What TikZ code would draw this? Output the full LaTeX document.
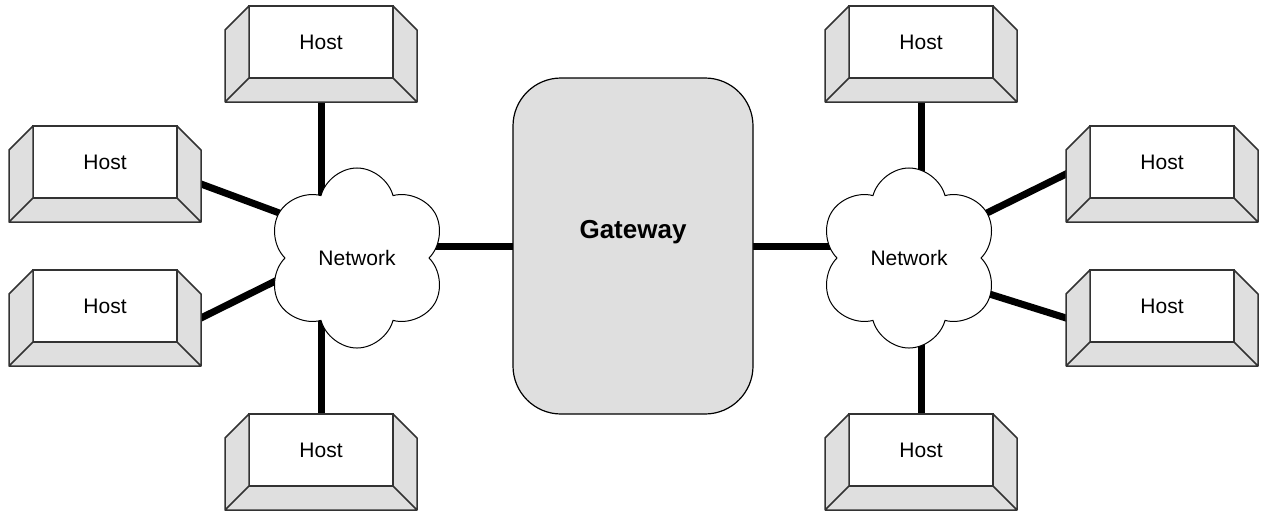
\documentclass[tikz,border=0pt]{standalone}
\usepackage{fontspec}
\setsansfont{Liberation Sans}
\usetikzlibrary{shapes.symbols,backgrounds}

\definecolor{panel}{gray}{0.875}
\definecolor{rim}{gray}{0.2}

\begin{document}
\begin{tikzpicture}[x=0.5pt,y=-0.5pt,
                    host/.style={rectangle,draw=rim,fill=white,line width=0.75pt,outer sep=0pt,
                      minimum width=72pt,minimum height=36pt,font=\sffamily\fontsize{10.5}{12}\selectfont},
                    net/.style={cloud,cloud puffs=6,cloud puff arc=150,aspect=1,shape border rotate=30,
                      draw,fill=white,line width=0.5pt,minimum width=90pt,minimum height=90pt,inner sep=0pt,
                      font=\sffamily\fontsize{10.5}{12}\selectfont},
                    gate/.style={rectangle,rounded corners=24pt,draw,fill=panel,line width=0.6pt,
                      minimum width=120pt,minimum height=168pt},
                    bevel/.style={draw=rim,fill=panel,line width=0.75pt,line join=round},
                    link/.style={line width=3.5pt,shorten <=-4pt,shorten >=-4pt}]
  \useasboundingbox (0,0) rectangle (1261,514);

  \node[gate,label={[yshift=7pt,font=\sffamily\bfseries\fontsize{13}{15}\selectfont]center:Gateway}] (gw) at (633,246) {};
  \node[net] (lnet) at (357,258) {Network};
  \node[net] (rnet) at (909,258) {Network};

  % hosts on the left network
  \node[host] (h1) at (321,42) {Host};
  \node[host] (h2) at (105,162) {Host};
  \node[host] (h3) at (105,306) {Host};
  \node[host] (h4) at (321,450) {Host};
  % hosts on the right network
  \node[host] (h5) at (921,42) {Host};
  \node[host] (h6) at (1162,162) {Host};
  \node[host] (h7) at (1162,306) {Host};
  \node[host] (h8) at (921,450) {Host};

  % sloped side and bottom panels round each host
  \foreach \h in {h1,h2,h3,h4,h5,h6,h7,h8}
    \draw[bevel] (\h.north west) -- ++(-12pt,-12pt) -- ([shift={(-12pt,-12pt)}]\h.south west)
      -- ([shift={(12pt,-12pt)}]\h.south east) -- ([shift={(12pt,-12pt)}]\h.north east)
      -- (\h.north east) -- (\h.south east) -- (\h.south west) -- cycle
      (\h.south west) -- ++(-12pt,-12pt) (\h.south east) -- ++(12pt,-12pt);

  \begin{pgfonlayer}{background}
    \path[link]
      (h1) edge (h1 |- lnet.center)
      (h4) edge (h4 |- lnet.center)
      ([shift={(12pt,-11pt)}]h2.east) edge (lnet.150)
      ([shift={(12pt,-6pt)}]h3.east) edge (lnet.196)
      (gw.west) edge (gw.west -| lnet.center)
      (gw.east) edge (gw.east -| rnet.center)
      (h5) edge (h5 |- rnet.center)
      (h8) edge (h8 |- rnet.center)
      ([shift={(-12pt,-6pt)}]h6.west) edge (rnet.30)
      ([shift={(-12pt,-6pt)}]h7.west) edge (rnet.-24)
      ;
  \end{pgfonlayer}
\end{tikzpicture}
\end{document}
